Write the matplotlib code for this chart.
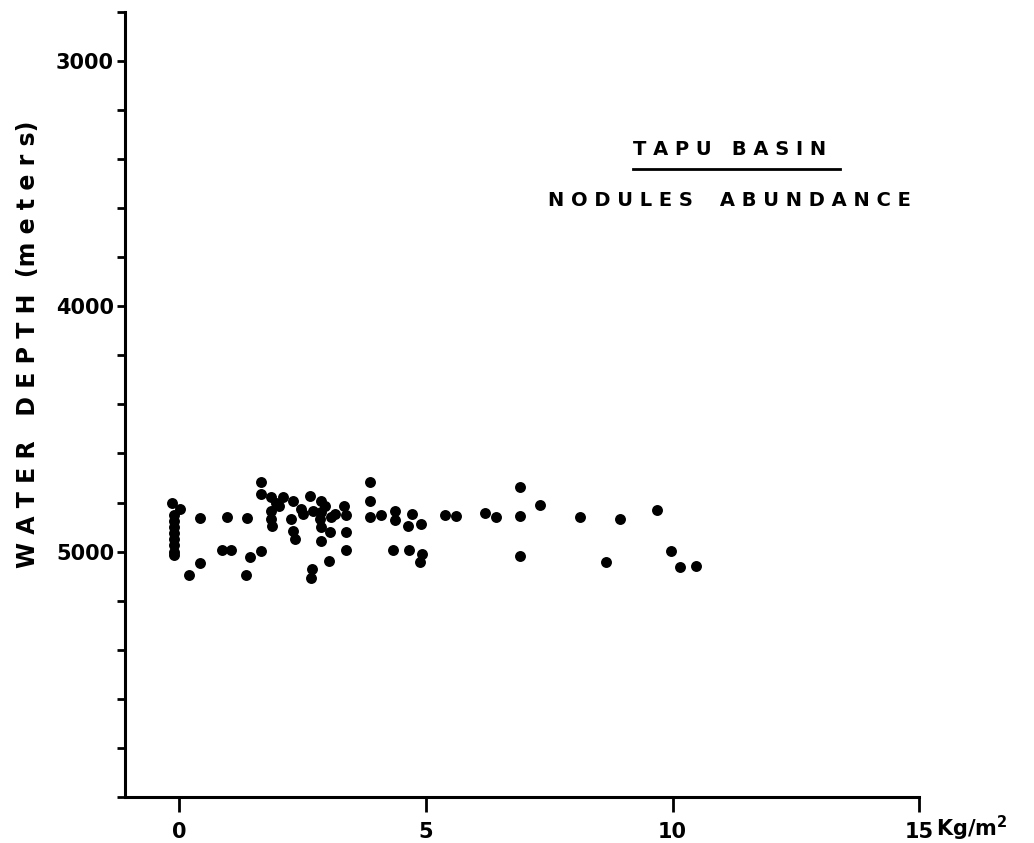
import matplotlib.pyplot as plt
from matplotlib.ticker import MultipleLocator

# nodule abundance (kg/m2) vs water depth (m)
abundance = [-0.14, 0.02, -0.1, -0.1, -0.1, -0.1, -0.1, -0.1, -0.1, -0.1,
             0.42, 0.96, 1.37, 0.87, 1.04, 0.42, 0.19, 1.36, 1.43, 1.66, 1.66, 1.66,
             1.86, 2.10, 1.86, 1.88, 1.86, 2.03, 2.30, 2.27, 2.47, 2.64, 2.88, 2.71,
             2.88, 2.85, 2.88, 3.05, 3.33, 3.38, 3.38, 3.38, 2.88, 3.04, 2.68, 2.66,
             2.30, 2.34, 3.08, 1.95, 2.50, 2.95, 3.15,
             3.87, 3.87, 3.87, 4.09, 4.37, 4.37, 4.71, 4.64, 4.89, 5.39, 5.61,
             4.34, 4.65, 4.92, 4.88,
             6.19, 6.41, 6.90, 6.91, 7.31, 6.90, 8.13, 8.94, 9.69, 8.64, 9.96,
             10.16, 10.48]
depth = [4803, 4826, 4850, 4875, 4900, 4925, 4950, 4975, 5000, 5015,
         4864, 4860, 4864, 4993, 4993, 5046, 5094, 5094, 5020, 4996, 4718, 4765,
         4779, 4776, 4833, 4894, 4866, 4813, 4792, 4866, 4826, 4772, 4792, 4833,
         4840, 4867, 4901, 4921, 4813, 4849, 4921, 4993, 4955, 5037, 5070, 5107,
         4914, 4948, 4860, 4800, 4845, 4815, 4845,
         4718, 4792, 4857, 4849, 4833, 4871, 4846, 4897, 4887, 4849, 4853,
         4992, 4993, 5009, 5041,
         4844, 4857, 4738, 4853, 4809, 5018, 4860, 4868, 4830, 5044, 4996,
         5061, 5060]

x_ticks = [0, 5, 10, 15]
y_ticks = [3000, 4000, 5000]

plt.rcParams['font.family'] = ['DejaVu Sans']
plt.rcParams['font.weight'] = 'bold'

fig = plt.figure(figsize=(10.34, 8.43), dpi=100)
ax = fig.add_axes([0.121, 0.0546, 0.768, 0.9314])

ax.scatter(abundance, depth, s=62, c='black', linewidths=0, zorder=3)

ax.set_xlim(-1.1, 15)
ax.set_ylim(6000, 2800)

for side in ['top', 'right']:
    ax.spines[side].set_visible(False)
for side in ['left', 'bottom']:
    ax.spines[side].set_linewidth(2.2)

ax.set_xticks(x_ticks)
ax.set_xticklabels([str(t) for t in x_ticks], fontsize=15, fontweight='bold')
ax.tick_params(axis='x', direction='out', length=11, width=2, pad=7)

ax.set_yticks(y_ticks)
ax.set_yticklabels([str(t) for t in y_ticks], fontsize=15, fontweight='bold')
ax.yaxis.set_minor_locator(MultipleLocator(200))
ax.tick_params(axis='y', which='both', direction='out', length=6, width=2, pad=2)

ax.text(15.35, 6130, 'Kg/m$^\\mathbf{2}$', fontsize=15, fontweight='bold',
        ha='left', va='center', clip_on=False)

ax.set_ylabel('W A T E R   D E P T H  (m e t e r s)', fontsize=17,
              fontweight='bold')
ax.yaxis.set_label_coords(-0.107, 0.576)

ax.text(11.15, 3360, 'T A P U   B A S I N', fontsize=14, fontweight='bold',
        ha='center', va='center')
ax.plot([9.2, 13.4], [3440, 3440], color='black', lw=2)
ax.text(11.15, 3570, 'N O D U L E S    A B U N D A N C E', fontsize=14,
        fontweight='bold', ha='center', va='center')

fig.savefig('out.png', dpi=100)
